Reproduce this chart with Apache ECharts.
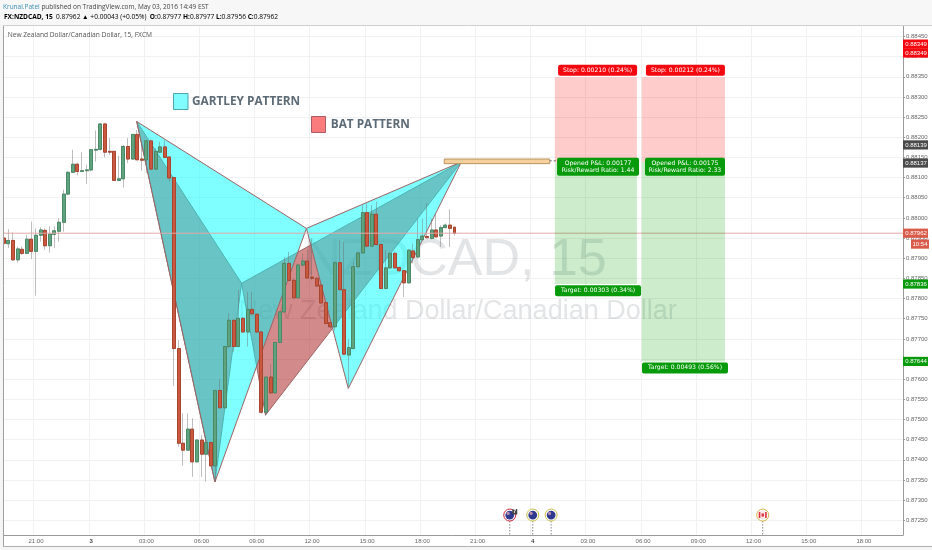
<!DOCTYPE html>
<html><head><meta charset="utf-8">
<style>html,body{margin:0;padding:0;background:#fff}#c{width:932px;height:550px}</style>
<script src="https://cdn.jsdelivr.net/npm/echarts@6/dist/echarts.min.js"></script>
</head><body><div id="c"></div>
<script>
// ---- candle values ----
const opens=[0.87950,0.87936,0.87944,0.87896,0.87922,0.87912,0.87947,0.87917,0.87957,0.87969,
0.87931,0.87959,0.87967,0.87989,0.88059,0.88113,0.88133,0.88115,0.88117,0.88119,
0.88168,0.88170,0.88233,0.88165,0.88165,0.88093,0.88097,0.88177,0.88146,0.88207,
0.88146,0.88144,0.88191,0.88121,0.88163,0.88176,0.88151,0.88100,0.87676,0.87441,
0.87424,0.87476,0.87395,0.87449,0.87414,0.87443,0.87385,0.87572,0.87529,0.87681,
0.87746,0.87681,0.87751,0.87717,0.87773,0.87761,0.87717,0.87518,0.87605,0.87566,
0.87691,0.87767,0.87887,0.87845,0.87802,0.87883,0.87893,0.87853,0.87850,0.87833,
0.87790,0.87740,0.87730,0.87889,0.87822,0.87660,0.87676,0.87879,0.87913,0.88013,
0.87930,0.88009,0.87934,0.87825,0.87876,0.87912,0.87877,0.87869,0.87839,0.87918,
0.87903,0.87946,0.87954,0.87949,0.87970,0.87955,0.87976,0.87982,0.87977];
const closes=[0.87937,0.87944,0.87896,0.87923,0.87912,0.87947,0.87917,0.87957,0.87970,0.87931,
0.87960,0.87968,0.87989,0.88059,0.88113,0.88133,0.88115,0.88117,0.88119,0.88169,
0.88170,0.88233,0.88163,0.88163,0.88093,0.88097,0.88177,0.88146,0.88207,0.88144,
0.88143,0.88191,0.88121,0.88165,0.88176,0.88150,0.88099,0.87676,0.87441,0.87424,
0.87476,0.87395,0.87449,0.87414,0.87443,0.87385,0.87572,0.87529,0.87681,0.87746,
0.87681,0.87751,0.87717,0.87773,0.87762,0.87717,0.87518,0.87605,0.87566,0.87691,
0.87767,0.87887,0.87845,0.87802,0.87883,0.87893,0.87851,0.87850,0.87831,0.87789,
0.87738,0.87730,0.87889,0.87822,0.87662,0.87678,0.87879,0.87913,0.88013,0.87930,
0.88009,0.87934,0.87825,0.87876,0.87912,0.87876,0.87869,0.87839,0.87920,0.87902,
0.87946,0.87955,0.87951,0.87970,0.87953,0.87976,0.87982,0.87974,0.87962];
const lows=[0.87929,0.87925,0.87894,0.87889,0.87908,0.87911,0.87898,0.87807,0.87941,0.87921,
0.87914,0.87925,0.87941,0.87966,0.88057,0.88111,0.88105,0.88115,0.88084,0.88115,
0.88140,0.88167,0.88150,0.88156,0.88091,0.88091,0.88075,0.88136,0.88144,0.88144,
0.88117,0.88111,0.88119,0.88119,0.88160,0.88148,0.88090,0.87583,0.87432,0.87385,
0.87423,0.87358,0.87393,0.87358,0.87346,0.87384,0.87346,0.87528,0.87528,0.87676,
0.87668,0.87679,0.87715,0.87681,0.87760,0.87715,0.87514,0.87509,0.87565,0.87565,
0.87689,0.87765,0.87843,0.87800,0.87800,0.87879,0.87850,0.87845,0.87829,0.87788,
0.87738,0.87726,0.87721,0.87821,0.87660,0.87581,0.87674,0.87877,0.87912,0.87928,
0.87928,0.87932,0.87823,0.87823,0.87874,0.87874,0.87866,0.87804,0.87837,0.87887,
0.87902,0.87945,0.87949,0.87947,0.87951,0.87928,0.87974,0.87928,0.87956];
const highs=[0.87962,0.87972,0.87964,0.87929,0.87929,0.87958,0.87991,0.87974,0.87977,0.87974,
0.87979,0.87979,0.87999,0.88070,0.88115,0.88169,0.88136,0.88163,0.88132,0.88170,
0.88217,0.88235,0.88235,0.88198,0.88167,0.88154,0.88181,0.88198,0.88208,0.88218,
0.88185,0.88194,0.88194,0.88173,0.88189,0.88192,0.88152,0.88102,0.87697,0.87515,
0.87515,0.87503,0.87450,0.87461,0.87457,0.87445,0.87573,0.87600,0.87682,0.87763,
0.87748,0.87821,0.87753,0.87817,0.87817,0.87763,0.87719,0.87606,0.87638,0.87692,
0.87768,0.87903,0.87916,0.87850,0.87887,0.87912,0.87920,0.87949,0.87854,0.87837,
0.87792,0.87742,0.87891,0.87945,0.87940,0.87699,0.87891,0.87914,0.88032,0.88036,
0.88032,0.88040,0.87935,0.87920,0.87913,0.87916,0.87879,0.87870,0.87922,0.87936,
0.87998,0.87998,0.88036,0.87998,0.88011,0.87982,0.87986,0.88021,0.87977];

// ---- axes ----
const slotCount=196;
const tickSlots=[7,19,31,43,55,67,79,91,103,115,127,139,151,163,175,187];
const tickNames=['21:00','3','03:00','06:00','09:00','12:00','15:00','18:00','21:00','4','03:00','06:00','09:00','12:00','15:00','18:00'];
const boldTicks=['3','4'];
const priceTicks=[0.8725,0.873,0.8735,0.874,0.8745,0.875,0.8755,0.876,0.8765,0.877,0.8775,0.878,0.8785,0.879,0.8795,0.88,0.8805,0.881,0.8815,0.882,0.8825,0.883,0.8835,0.884,0.8845];
const priceMin=0.872135, priceMax=0.884784, lastPrice=0.87962;

// ---- harmonic patterns: [slot, price] ----
const gartleyXAB=[[28.9,0.88239],[45.9,0.87345],[65.8,0.87974]];
const gartleyBCD=[[65.8,0.87974],[74.9,0.87577],[99.5,0.88139]];
const batXAB=[[28.9,0.88239],[45.9,0.87345],[51.7,0.87838]];
const batBCD=[[51.7,0.87838],[56.9,0.87511],[99.5,0.88139]];
const entryZone=[[95.76,0.88146],[118.7,0.88137]];

// ---- position tools ----
const boxSlots=[[119.8,137.65],[138.7,156.8]];
const stopPrice=0.88349, entryPrices=[0.88137,0.88139], targetPrices=[0.87836,0.87644];
const toolLabels=[
 {text:'Stop: 0.00210 (0.24%)',slot:129.1,price:0.88366,w:79,h:11,fill:'#f5070f'},
 {text:'Stop: 0.00212 (0.24%)',slot:148.2,price:0.88366,w:79,h:11,fill:'#f5070f'},
 {text:'Opened P&L: 0.00177\nRisk/Reward Ratio: 1.44',slot:129.2,price:0.88127,w:82,h:18,fill:'#079a0a'},
 {text:'Opened P&L: 0.00175\nRisk/Reward Ratio: 2.33',slot:148.1,price:0.88127,w:80,h:18,fill:'#079a0a'},
 {text:'Target: 0.00303 (0.34%)',slot:129.2,price:0.87819,w:86,h:11,fill:'#079a0a'},
 {text:'Target: 0.00493 (0.56%)',slot:148.1,price:0.87628,w:86,h:11,fill:'#079a0a'}
];
const axisTags=[
 {text:'0.88349',price:0.88431,fill:'#f5070f'},
 {text:'0.88349',price:0.88409,fill:'#f5070f'},
 {text:'0.88139',price:0.88181,fill:'#4a4a4a'},
 {text:'0.88137',price:0.88136,fill:'#4a4a4a'},
 {text:'0.87962',price:0.87962,fill:'#d95b4a'},
 {text:'0.87836',price:0.87836,fill:'#079a0a'},
 {text:'0.87644',price:0.87644,fill:'#079a0a'}
];
const countdown={text:'10:54',price:0.87935};
const events=[
 {slot:110,ring:'#c8283a',flag:'nz',badge:'7'},
 {slot:115,ring:'#c9c24a',flag:'nz'},
 {slot:119,ring:'#c9c24a',flag:'nz'},
 {slot:165,ring:'#d9b44a',flag:'ca'}
];
const eventPrice=0.87263;

const cats=[];for(let i=0;i<slotCount;i++){const k=tickSlots.indexOf(i);cats.push(k>=0?tickNames[k]:'');}
const isTick=i=>tickSlots.indexOf(i)>=0;
const wicks=opens.map((o,i)=>[o,closes[i],lows[i],highs[i]]);
const bodies=opens.map((o,i)=>[o,closes[i],Math.min(o,closes[i]),Math.max(o,closes[i])]);

const F='"Liberation Sans",Arial,sans-serif';
const chart=echarts.init(document.getElementById('c'));

function poly(api,pts,fill,stroke){
  return {type:'polygon',shape:{points:pts.map(p=>api.coord(p))},style:{fill:fill,stroke:stroke,lineWidth:1}};
}
function band(api,x0,x1,p0,p1,fill){
  const a=api.coord([x0,p0]),b=api.coord([x1,p1]);
  return {type:'rect',shape:{x:a[0],y:a[1],width:b[0]-a[0],height:b[1]-a[1]},style:{fill:fill}};
}
function watermark(params,api){
  const a=api.coord([131.1,0.87893]),b=api.coord([146.3,0.87767]);
  return {type:'group',children:[
    {type:'text',style:{text:'NZDCAD, 15',x:a[0],y:a[1],align:'right',verticalAlign:'middle',font:'52px '+F,fill:'rgba(125,132,140,0.22)'}},
    {type:'text',style:{text:'New Zealand Dollar/Canadian Dollar',x:b[0],y:b[1],align:'right',verticalAlign:'middle',font:'27px '+F,fill:'rgba(125,132,140,0.22)'}}
  ]};
}
function patterns(params,api){
  const edge='#9c6464';
  const kids=[
    poly(api,batXAB,'rgba(165,22,22,0.5)',edge),
    poly(api,batBCD,'rgba(165,22,22,0.5)',edge),
    poly(api,gartleyXAB,'rgba(0,255,255,0.5)',edge),
    poly(api,gartleyBCD,'rgba(0,255,255,0.5)',edge)
  ];
  return {type:'group',children:kids};
}
function priceLine(params,api){
  const y=api.coord([0,lastPrice])[1];
  return {type:'line',shape:{x1:3,y1:y,x2:903,y2:y},style:{stroke:'#e6a8a8',lineWidth:1}};
}
function tools(params,api){
  const kids=[];
  boxSlots.forEach((b,i)=>{
    kids.push(band(api,b[0],b[1],stopPrice,entryPrices[i],'rgba(255,0,0,0.2)'));
    kids.push(band(api,b[0],b[1],entryPrices[i],targetPrices[i],'rgba(0,160,0,0.2)'));
  });
  const a=api.coord(entryZone[0]),b=api.coord(entryZone[1]);
  kids.push({type:'rect',shape:{x:a[0],y:a[1],width:b[0]-a[0],height:b[1]-a[1]+1},style:{fill:'#f5cf9c',stroke:'#b9945f',lineWidth:1}});
  kids.push({type:'line',shape:{x1:b[0],y1:(a[1]+b[1])/2,x2:556,y2:(a[1]+b[1])/2},style:{stroke:'#666',lineWidth:1,lineDash:[2,2]}});
  toolLabels.forEach(l=>{
    const c=api.coord([l.slot,l.price]);
    kids.push({type:'rect',shape:{x:c[0]-l.w/2,y:c[1]-l.h/2,width:l.w,height:l.h,r:2},style:{fill:l.fill}});
    kids.push({type:'text',style:{text:l.text,x:c[0],y:c[1],align:'center',verticalAlign:'middle',font:'6.1px "DejaVu Sans",sans-serif',fill:'#fff',lineHeight:7.5}});
  });
  events.forEach(e=>{
    const c=api.coord([e.slot,eventPrice]);
    kids.push({type:'line',shape:{x1:c[0],y1:c[1]+6,x2:c[0],y2:535},style:{stroke:'#888',lineWidth:1,lineDash:[1.5,1.5]}});
    kids.push({type:'circle',shape:{cx:c[0],cy:c[1],r:6},style:{fill:'#fff',stroke:e.ring,lineWidth:1}});
    if(e.flag==='nz'){
      kids.push({type:'circle',shape:{cx:c[0],cy:c[1],r:4.4},style:{fill:'#2f3a8f'}});
      kids.push({type:'circle',shape:{cx:c[0]-1.6,cy:c[1]-1.6,r:1.6},style:{fill:'#b98fb0'}});
    }else{
      kids.push({type:'circle',shape:{cx:c[0],cy:c[1],r:4.4},style:{fill:'#f7e9ea'}});
      kids.push({type:'rect',shape:{x:c[0]-4,y:c[1]-3,width:1.6,height:6},style:{fill:'#e0303f'}});
      kids.push({type:'rect',shape:{x:c[0]+2.4,y:c[1]-3,width:1.6,height:6},style:{fill:'#e0303f'}});
      kids.push({type:'rect',shape:{x:c[0]-1.2,y:c[1]-1.6,width:2.4,height:3.2},style:{fill:'#e0303f'}});
    }
    if(e.badge){
      kids.push({type:'rect',shape:{x:c[0]+2.5,y:c[1]-6,width:5,height:5.5},style:{fill:'#444'}});
      kids.push({type:'text',style:{text:e.badge,x:c[0]+5,y:c[1]-3.2,align:'center',verticalAlign:'middle',font:'bold 5px '+F,fill:'#fff'}});
    }
  });
  return {type:'group',children:kids};
}
function tags(params,api){
  const kids=[];
  axisTags.forEach(t=>{
    const yc=api.coord([0,t.price])[1];
    kids.push({type:'rect',shape:{x:903,y:yc-4.6,width:25,height:9.2},style:{fill:t.fill}});
    kids.push({type:'text',style:{text:t.text,x:916,y:yc,align:'center',verticalAlign:'middle',font:'6px '+F,fill:'#fff'}});
  });
  const yc=api.coord([0,countdown.price])[1];
  kids.push({type:'rect',shape:{x:911,y:yc-4.6,width:18,height:9.2},style:{fill:'#d95b4a'}});
  kids.push({type:'text',style:{text:countdown.text,x:920,y:yc,align:'center',verticalAlign:'middle',font:'6px '+F,fill:'#fff'}});
  return {type:'group',children:kids};
}
const overlay=(fn,z)=>({type:'custom',coordinateSystem:'cartesian2d',xAxisIndex:1,yAxisIndex:0,z:z,silent:true,clip:false,
  renderItem:fn,data:[[0,lastPrice]],encode:{x:0,y:1},animation:false});

const up='#5fa27e',upB='#4b8a68',dn='#c9583f',dnB='#a8452f',wick='rgba(110,110,110,0.45)';
chart.setOption({
  animation:false,
  backgroundColor:'#ffffff',
  grid:{left:1.5,right:29,top:25,bottom:15,containLabel:false},
  xAxis:[{
    type:'category',data:cats,boundaryGap:true,
    axisLine:{lineStyle:{color:'#9a9a9a',width:1}},
    axisTick:{show:false},
    axisLabel:{interval:(i)=>isTick(i),margin:3,fontSize:6,fontFamily:F,color:'#666',hideOverlap:false,
      formatter:v=>boldTicks.indexOf(v)>=0?'{b|'+v+'}':v,rich:{b:{fontSize:6,fontWeight:'bold',color:'#444',fontFamily:F}}},
    splitLine:{show:true,interval:(i)=>isTick(i),lineStyle:{color:'#f1f1f1',width:1}}
  },{type:'value',min:-0.5,max:slotCount-0.5,show:false}],
  yAxis:{
    type:'value',position:'right',min:priceMin,max:priceMax,scale:true,
    axisLine:{show:true,onZero:false,lineStyle:{color:'#9a9a9a',width:1}},
    axisTick:{show:true,length:2,customValues:priceTicks,lineStyle:{color:'#9a9a9a'}},
    axisLabel:{customValues:priceTicks,margin:3,fontSize:6,fontFamily:F,color:'#666',formatter:v=>v.toFixed(5)},
    splitLine:{show:true,lineStyle:{color:'#f1f1f1',width:1}}
  },
  series:[
    overlay(watermark,1),
    overlay(patterns,2),
    {type:'candlestick',xAxisIndex:0,yAxisIndex:0,z:3,data:wicks,barWidth:3.4,silent:true,
      itemStyle:{color:wick,color0:wick,borderColor:wick,borderColor0:wick,borderColorDoji:wick,borderWidth:1}},
    {type:'candlestick',xAxisIndex:0,yAxisIndex:0,z:4,data:bodies,barWidth:3.4,silent:true,
      itemStyle:{color:up,color0:dn,borderColor:upB,borderColor0:dnB,borderColorDoji:dnB,borderWidth:1}},
    overlay(priceLine,5),
    overlay(tools,6),
    overlay(tags,7)
  ],
  graphic:[
    {type:'rect',z:20,shape:{x:0,y:0,width:932,height:25},style:{fill:'#f7f7f7'}},
    {type:'rect',z:20,shape:{x:0,y:25,width:3,height:525},style:{fill:'#f5f5f5'}},
    {type:'rect',z:20,shape:{x:0,y:546,width:932,height:4},style:{fill:'#f5f5f5'}},
    {type:'line',z:21,shape:{x1:3.5,y1:25,x2:3.5,y2:546},style:{stroke:'#a0a0a0',lineWidth:1}},
    {type:'line',z:21,shape:{x1:3,y1:25.5,x2:932,y2:25.5},style:{stroke:'#d0d0d0',lineWidth:1}},
    {type:'line',z:21,shape:{x1:3,y1:546.5,x2:932,y2:546.5},style:{stroke:'#b0b0b0',lineWidth:1}},
    {type:'text',z:22,style:{x:3,y:7,verticalAlign:'middle',text:'{a|Krunal.Patel}{b| published on TradingView.com, May 03, 2016 14:49 EST}',
      rich:{a:{fontFamily:'"Open Sans"',fontSize:6.5,fill:'#3a8fb5',color:'#3a8fb5'},b:{fontFamily:'"Open Sans"',fontSize:6.5,fill:'#444',color:'#444'}}}},
    {type:'text',z:22,style:{x:4,y:17,verticalAlign:'middle',
      text:'{k|FX:NZDCAD, 15} {b|0.87962 }{g|▲ }{b|+0.00043 (+0.05%)  }{k|O:}{g|0.87977 }{k|H:}{g|0.87977 }{k|L:}{g|0.87956 }{k|C:}{g|0.87962}',
      rich:{k:{fontFamily:'"Open Sans"',fontWeight:'bold',fontSize:6.6,color:'#333'},b:{fontFamily:'"Open Sans"',fontSize:6.6,color:'#444'},g:{fontFamily:'"Open Sans"',fontSize:6.6,color:'#2fa84f'}}}},
    {type:'text',z:22,style:{x:7.7,y:35,verticalAlign:'middle',text:'New Zealand Dollar/Canadian Dollar, 15, FXCM',font:'6.65px "Open Sans"',fill:'#555'}},
    {type:'rect',z:22,shape:{x:173.5,y:93.5,width:14.5,height:16},style:{fill:'#80fcff',stroke:'#4aa5ad',lineWidth:1}},
    {type:'text',z:22,style:{x:192,y:102,verticalAlign:'middle',text:'GARTLEY PATTERN',font:'bold 11.8px "Open Sans"',fill:'#5d6b76'}},
    {type:'rect',z:22,shape:{x:311.5,y:116.5,width:14,height:16},style:{fill:'#fb7c7c',stroke:'#a85c66',lineWidth:1}},
    {type:'text',z:22,style:{x:330.7,y:125,verticalAlign:'middle',text:'BAT PATTERN',font:'bold 11.8px "Open Sans"',fill:'#5d6b76'}}
  ]
});
</script></body></html>
